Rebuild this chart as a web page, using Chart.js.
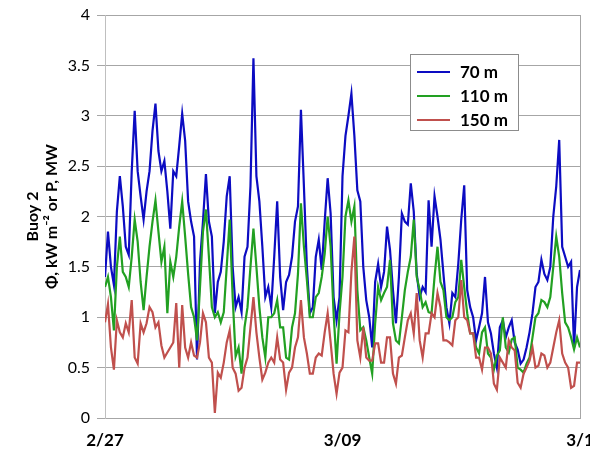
<!DOCTYPE html>
<html>
<head>
<meta charset="utf-8">
<script src="https://cdn.jsdelivr.net/npm/chart.js@4"></script>
<style>
html,body{margin:0;padding:0;background:#fff;overflow:hidden}
#wrap{width:590px;height:451px}
</style>
</head>
<body>
<div id="wrap"><canvas id="buoyChart" width="590" height="451"></canvas></div>
<script>
// ── data: one reading every 3 h from 2/27 ──
var STEP_DAYS = 0.125;
var xTickLabels = ['2/27', '3/09', '3/1'];
var seriesLabels = ['70 m', '110 m', '150 m'];
var seriesColors = ['#0c0cc2', '#22a022', '#c0504d'];

var depth70 = [
    1.40,1.85,1.50,1.32,2.05,2.40,2.10,1.70,1.62,2.45,
    3.05,2.45,2.20,1.97,2.25,2.45,2.85,3.12,2.65,2.45,
    2.55,2.25,1.88,2.45,2.40,2.70,3.02,2.75,2.15,1.95,
    1.80,0.58,1.55,1.95,2.42,1.95,1.80,1.04,1.35,1.45,
    1.75,2.20,2.40,1.50,1.10,1.20,1.05,1.60,1.70,2.30,
    3.57,2.40,2.15,1.70,1.20,1.30,1.10,1.60,2.15,1.40,
    1.07,1.35,1.42,1.60,1.95,2.10,3.06,2.30,1.50,1.04,
    1.10,1.60,1.77,1.47,1.95,2.38,2.03,1.20,0.97,1.20,
    2.40,2.80,3.00,3.22,2.80,2.26,2.15,1.50,1.17,1.00,
    0.70,1.35,1.53,1.30,1.45,1.90,1.67,1.27,0.94,1.40,
    2.03,1.95,1.92,2.33,2.05,1.43,1.20,1.30,1.25,2.16,
    1.70,2.20,2.00,1.77,1.43,1.10,0.94,1.24,1.20,1.53,
    1.97,2.31,1.27,1.10,1.00,0.77,0.90,1.04,1.40,0.95,
    0.84,0.64,0.50,0.90,0.97,0.80,0.90,0.97,0.75,0.68,
    0.54,0.58,0.70,0.85,1.04,1.30,1.35,1.57,1.43,1.37,
    1.50,2.00,2.30,2.76,1.70,1.60,1.50,1.55,0.70,1.30,
    1.47
];
var depth110 = [
    1.30,1.40,1.20,0.87,1.50,1.80,1.45,1.40,1.30,1.60,
    1.97,1.75,1.35,1.07,1.40,1.70,1.95,2.16,1.85,1.55,
    1.70,1.04,1.55,1.40,1.60,1.90,2.15,1.80,1.43,1.10,
    1.00,0.77,1.30,1.85,2.07,1.60,1.10,1.00,1.05,0.95,
    1.05,1.50,1.97,1.20,0.61,0.70,0.44,0.90,1.10,1.50,
    1.88,1.50,1.10,0.80,0.60,1.00,1.00,1.04,1.17,0.90,
    0.90,0.60,0.58,0.90,1.04,1.43,2.13,1.70,1.37,1.00,
    1.00,1.20,1.24,1.40,1.63,2.00,1.70,1.04,0.54,1.04,
    1.40,2.00,2.16,1.95,2.10,1.27,0.87,0.90,0.77,0.60,
    0.44,0.94,1.30,1.17,1.24,1.30,1.57,0.94,0.77,0.74,
    1.00,1.27,1.45,1.60,1.97,1.40,1.27,1.10,1.15,1.05,
    1.04,1.40,1.70,1.35,1.27,1.00,0.97,1.00,1.15,1.20,
    1.57,1.30,1.04,0.84,0.84,0.70,0.64,0.85,0.90,0.64,
    0.60,0.48,0.62,0.67,1.00,0.70,0.65,0.78,0.80,0.50,
    0.48,0.45,0.54,0.60,0.80,1.00,1.04,1.17,1.15,1.10,
    1.20,1.50,1.80,1.60,1.24,0.95,0.90,0.80,0.68,0.80,
    0.70
];
var depth150 = [
    0.95,1.13,0.70,0.48,0.97,0.85,0.80,0.94,0.85,1.17,
    0.60,0.54,0.94,0.85,0.94,1.10,1.05,0.90,0.95,0.72,
    0.60,0.65,0.70,0.75,1.14,0.50,1.12,0.70,0.60,0.75,
    0.62,0.60,0.75,1.04,0.95,0.60,0.55,0.05,0.45,0.40,
    0.55,0.75,0.87,0.50,0.44,0.27,0.30,0.50,0.60,0.90,
    1.20,0.85,0.60,0.38,0.45,0.55,0.60,0.55,0.80,0.58,
    0.55,0.28,0.45,0.50,0.70,0.80,1.17,0.80,0.64,0.44,
    0.44,0.60,0.64,0.62,0.85,1.04,0.75,0.44,0.24,0.45,
    0.50,0.87,0.85,1.45,1.80,0.77,0.60,0.90,0.60,0.57,
    0.57,0.74,0.74,0.55,0.55,0.80,0.80,0.44,0.34,0.60,
    0.62,0.80,0.97,1.04,0.84,1.24,0.77,0.60,0.84,0.84,
    1.04,1.00,1.24,1.10,0.77,0.77,0.75,0.72,0.97,1.00,
    1.37,1.00,0.97,0.84,0.84,0.60,0.60,0.48,0.70,0.70,
    0.64,0.34,0.28,0.60,0.55,0.50,0.77,0.70,0.67,0.35,
    0.30,0.44,0.50,0.57,0.70,0.50,0.52,0.64,0.62,0.50,
    0.55,0.70,0.85,0.97,0.64,0.55,0.50,0.30,0.32,0.55,
    0.55
];

function toPoints(vals) {
    return vals.map(function(v, i) { return {x: i * STEP_DAYS, y: v}; });
}

var allSeries = [depth70, depth110, depth150];
var datasets = allSeries.map(function(vals, i) {
    return {
        label: seriesLabels[i],
        data: toPoints(vals),
        borderColor: seriesColors[i],
        backgroundColor: seriesColors[i],
        borderWidth: 2.2,
        pointRadius: 0,
        tension: 0,
        order: 3 - i
    };
});

// legend drawn as a boxed key inside the plot
var legendBox = {
    id: 'legendBox',
    afterDraw: function(chart) {
        var ctx = chart.ctx;
        ctx.save();
        ctx.fillStyle = '#fff';
        ctx.fillRect(410, 54, 108, 76);
        ctx.strokeStyle = '#8c8c8c';
        ctx.lineWidth = 1;
        ctx.strokeRect(410.5, 54.5, 108, 76);
        ctx.font = 'bold 17px Lato';
        ctx.textBaseline = 'middle';
        chart.data.datasets.forEach(function(ds, i) {
            var y = 72 + i * 24;
            ctx.strokeStyle = ds.borderColor;
            ctx.lineWidth = 2;
            ctx.beginPath(); ctx.moveTo(417, y); ctx.lineTo(450, y); ctx.stroke();
            ctx.fillStyle = '#000';
            ctx.fillText(ds.label, 460, y + 1);
        });
        ctx.restore();
    }
};

Chart.defaults.font.family = 'Lato';
Chart.defaults.color = '#000';

new Chart(document.getElementById('buoyChart'), {
    type: 'line',
    data: {datasets: datasets},
    plugins: [legendBox],
    options: {
        responsive: false,
        animation: false,
        layout: {padding: {top: 15, right: 10, bottom: 0, left: 20}},
        plugins: {legend: {display: false}, tooltip: {enabled: false}},
        scales: {
            x: {
                type: 'linear', min: 0, max: 20,
                grid: {display: false, drawTicks: false},
                border: {display: true, color: '#a6a6a6'},
                ticks: {
                    stepSize: 10, padding: 12,
                    font: {size: 17, weight: 'bold'},
                    callback: function(v) { return xTickLabels[Math.round(v / 10)]; }
                },
                afterFit: function(s) { s.height = 33; s.paddingLeft = 0; s.paddingRight = 0; }
            },
            y: {
                min: 0, max: 4,
                grid: {color: '#a6a6a6', tickLength: 8},
                border: {display: true, color: '#bfbfbf'},
                ticks: {
                    stepSize: 0.5, padding: 7, font: {size: 16},
                    callback: function(v) { return String(v); }
                },
                title: {
                    display: true,
                    text: ['Buoy 2', '\u03a6, kW m\u207b\u00b2 or P, MW'],
                    font: {size: 16, weight: 'bold'},
                    padding: {top: 3, bottom: 3}
                },
                afterFit: function(s) { s.width = 85; s.paddingTop = 0; s.paddingBottom = 0; }
            },
            y2: {
                position: 'right', min: 0, max: 4,
                grid: {display: false, drawTicks: false},
                border: {display: true, color: '#a6a6a6'},
                ticks: {display: false},
                afterFit: function(s) { s.width = 0; }
            }
        }
    }
});
</script>
</body>
</html>
